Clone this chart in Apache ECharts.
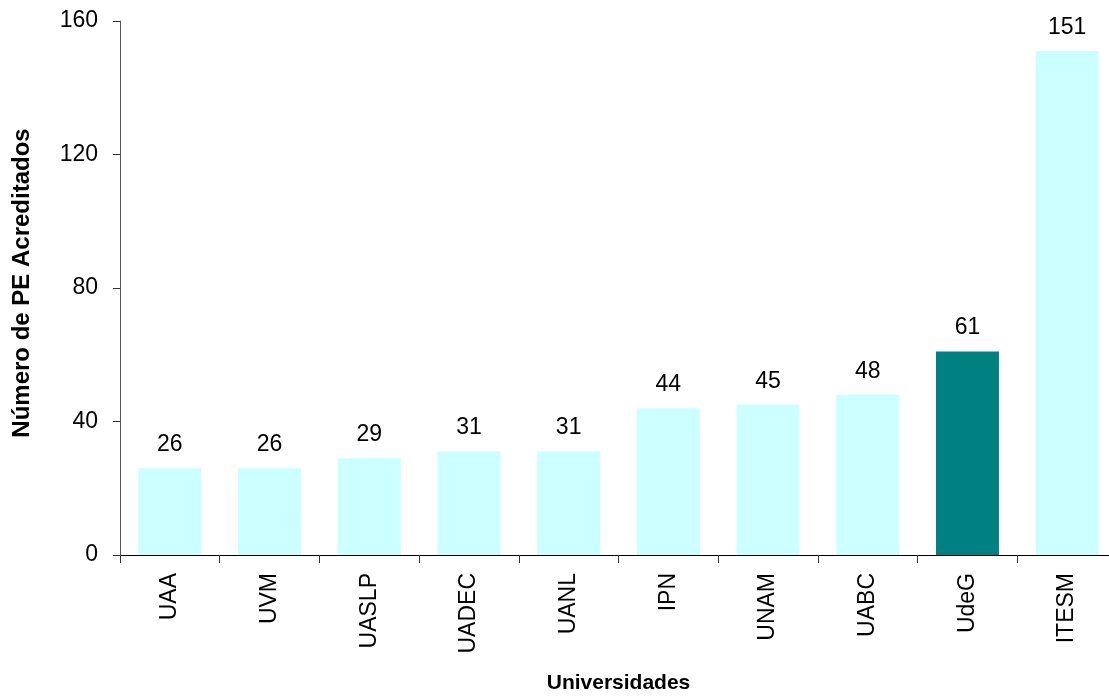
<!DOCTYPE html>
<html>
<head>
<meta charset="utf-8">
<script src="https://cdn.jsdelivr.net/npm/echarts@6/dist/echarts.min.js"></script>
<style>
html,body{margin:0;padding:0;background:#fff;}
#c{width:1109px;height:700px;}
</style>
</head>
<body>
<div id="c"></div>
<script>
const categories = ['UAA','UVM','UASLP','UADEC','UANL','IPN','UNAM','UABC','UdeG','ITESM'];
const values = [26,26,29,31,31,44,45,48,61,151];
const highlighted = 'UdeG';
const yTicks = {min:0, max:160, interval:40};
const xTitle = 'Universidades';
const yTitle = 'Número de PE Acreditados';

const chart = echarts.init(document.getElementById('c'), null, {renderer:'canvas'});
const font = '"Liberation Sans", Arial, sans-serif';
chart.setOption({
  animation:false,
  backgroundColor:'#fff',
  grid:{left:120, top:21, width:997, height:534, containLabel:false, outerBoundsMode:'none'},
  xAxis:{
    type:'category',
    data:categories,
    name:xTitle,
    nameLocation:'middle',
    nameGap:118,
    nameTextStyle:{fontFamily:font, fontWeight:'bold', fontSize:21, color:'#000'},
    axisLine:{lineStyle:{color:'#000', width:1}},
    axisTick:{show:true, length:8, lineStyle:{color:'#333'}},
    axisLabel:{rotate:90, margin:18, fontFamily:font, fontSize:23, color:'#000'}
  },
  yAxis:{
    type:'value',
    min:yTicks.min, max:yTicks.max, interval:yTicks.interval,
    name:yTitle,
    nameLocation:'middle',
    nameGap:86,
    nameTextStyle:{fontFamily:font, fontWeight:'bold', fontSize:24, color:'#000', padding:[0,0,0,10]},
    axisLine:{show:true, lineStyle:{color:'#555', width:1}},
    axisTick:{show:true, length:7, lineStyle:{color:'#333'}},
    splitLine:{show:false},
    axisLabel:{margin:22, fontFamily:font, fontSize:23, color:'#000'}
  },
  series:[{
    type:'bar',
    barWidth:63,
    data:values.map((v,i)=>({value:v, itemStyle:{color: categories[i]===highlighted ? '#008080' : '#CCFFFF'}})),
    label:{show:true, position:'top', distance:12, fontFamily:font, fontSize:23, color:'#000'}
  }]
});
</script>
</body>
</html>
